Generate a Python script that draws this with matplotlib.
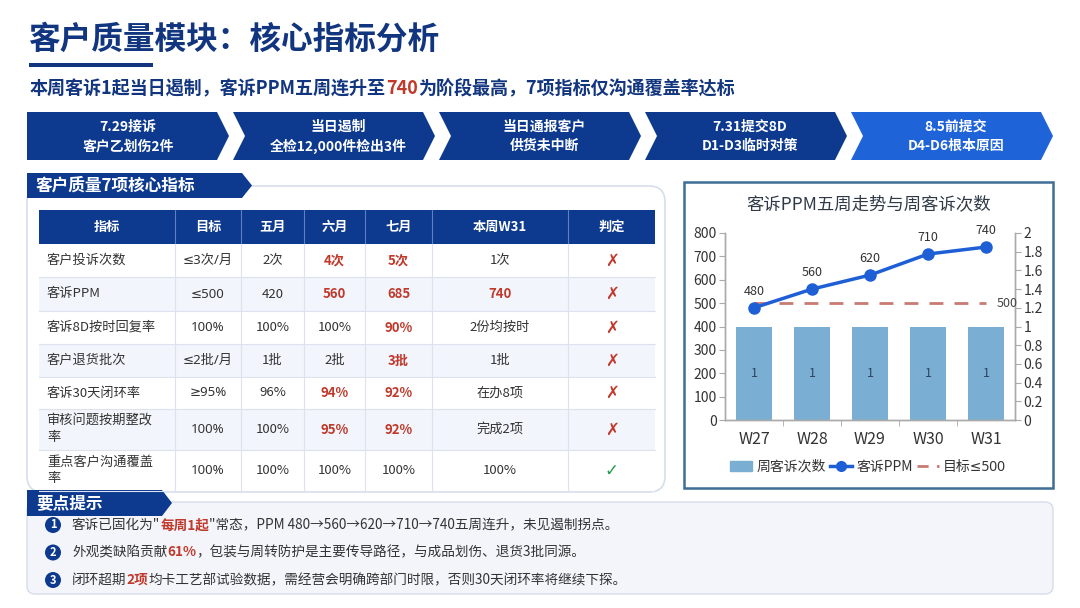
import matplotlib
matplotlib.use("Agg")
import matplotlib.pyplot as plt
from matplotlib.patches import Polygon, Rectangle, FancyBboxPatch, Circle, Patch
from matplotlib.lines import Line2D
from matplotlib.ticker import FuncFormatter, FixedLocator

plt.rcParams['font.family'] = ['Noto Sans CJK SC', 'DejaVu Sans']
# latin first so that ≤ / ≥ come out narrow
LATIN_MIX = ['Noto Sans', 'DejaVu Sans', 'Noto Sans CJK SC']

# ---- data ----
title = '客户质量模块：核心指标分析'
steps = [('7.29接诉', '客户乙划伤2件'),
         ('当日遏制', '全检12,000件检出3件'),
         ('当日通报客户', '供货未中断'),
         ('7.31提交8D', 'D1-D3临时对策'),
         ('8.5前提交', 'D4-D6根本原因')]

headers = ['指标', '目标', '五月', '六月', '七月', '本周W31', '判定']
metrics = ['客户投诉次数', '客诉PPM', '客诉8D按时回复率', '客户退货批次',
           '客诉30天闭环率', '审核问题按期整改\n率', '重点客户沟通覆盖\n率']
targets = ['≤3次/月', '≤500', '100%', '≤2批/月', '≥95%', '100%', '100%']
may_vals = ['2次', '420', '100%', '1批', '96%', '100%', '100%']
jun_vals = ['4次', '560', '100%', '2批', '94%', '95%', '100%']
jul_vals = ['5次', '685', '90%', '3批', '92%', '92%', '100%']
w31_vals = ['1次', '740', '2份均按时', '1批', '在办8项', '完成2项', '100%']
verdict = ['✗', '✗', '✗', '✗', '✗', '✗', '✓']
jun_red = [1, 1, 0, 0, 1, 1, 0]
jul_red = [1, 1, 1, 1, 1, 1, 0]
w31_red = [0, 1, 0, 0, 0, 0, 0]

weeks = ['W27', 'W28', 'W29', 'W30', 'W31']
weekly_complaints = [1, 1, 1, 1, 1]
ppm = [480, 560, 620, 710, 740]
ppm_target = 500

NAVY = '#0d3a8f'
NAVY_TXT = '#12357f'
BRIGHT = '#1f63d8'
RED = '#c0392b'
GRAY_TXT = '#333333'

fig = plt.figure(figsize=(10.8, 6.08), dpi=100)
bg = fig.add_axes([0, 0, 1, 1])
bg.set_xlim(0, 1080)
bg.set_ylim(608, 0)
bg.set_axis_off()
renderer = fig.canvas.get_renderer()


def rich_text(x, y, parts, size):
    # pieces of text in different colours on one line
    for s, color, weight in parts:
        t = bg.text(x, y, s, fontsize=size, color=color, fontweight=weight,
                    va='center', ha='left')
        x += t.get_window_extent(renderer=renderer).width
    return x


# title + underline
bg.text(28, 40, title, fontsize=22.8, fontweight='bold', color=NAVY_TXT,
        va='center', ha='left')
bg.add_patch(Rectangle((29, 63), 124, 4, color=NAVY_TXT, lw=0))

rich_text(30, 89, [('本周客诉1起当日遏制，客诉PPM五周连升至', NAVY_TXT, 'bold'),
                   ('740', RED, 'bold'),
                   ('为阶段最高，7项指标仅沟通覆盖率达标', NAVY_TXT, 'bold')], 13)

# process chevrons
y0, y1 = 112, 160
ym = (y0 + y1) / 2
for i, (l1, l2) in enumerate(steps):
    x0 = 27 + i * 206
    x1 = x0 + 190
    d = 12
    if i == 0:
        pts = [(x0, y0), (x1, y0), (x1 + d, ym), (x1, y1), (x0, y1)]
    else:
        pts = [(x0, y0), (x1, y0), (x1 + d, ym), (x1, y1), (x0, y1), (x0 + d, ym)]
    fc = BRIGHT if i == len(steps) - 1 else NAVY
    bg.add_patch(Polygon(pts, closed=True, fc=fc, ec='none'))
    cx = (x0 + x1 + d) / 2 + (0 if i == 0 else 4)
    bg.text(cx, ym - 9, l1, fontsize=10, color='white', fontweight='bold',
            ha='center', va='center')
    bg.text(cx, ym + 10, l2, fontsize=10, color='white', fontweight='bold',
            ha='center', va='center')

# table panel
bg.add_patch(FancyBboxPatch((27, 186), 638, 306,
                            boxstyle='round,pad=0,rounding_size=16',
                            fc='white', ec='#d6deec', lw=1.2))
bg.add_patch(Polygon([(27, 173), (242, 173), (252, 185.5), (242, 198), (27, 198)],
                     closed=True, fc=NAVY, ec='none'))
bg.text(36, 186, '客户质量7项核心指标', fontsize=12, color='white',
        fontweight='bold', ha='left', va='center')

col_x = [39, 175, 241, 304, 365, 432, 568, 655]
row_y = [210, 244, 277, 311, 344, 377, 409, 450, 491]

bg.add_patch(Rectangle((col_x[0], row_y[0]), col_x[-1] - col_x[0],
                       row_y[1] - row_y[0], fc=NAVY, ec='none'))
for j, h in enumerate(headers):
    cx = (col_x[j] + col_x[j + 1]) / 2
    bg.text(cx, (row_y[0] + row_y[1]) / 2, h, fontsize=9.5, color='white',
            fontweight='bold', ha='center', va='center')
    if j > 0:
        bg.plot([col_x[j], col_x[j]], [row_y[0], row_y[1]], color='#5f7fc0', lw=0.8)

columns = [metrics, targets, may_vals, jun_vals, jul_vals, w31_vals, verdict]
red_flags = [None, None, None, jun_red, jul_red, w31_red, None]
for r in range(len(metrics)):
    ta, tb = row_y[r + 1], row_y[r + 2]
    fc = '#f2f5fb' if r % 2 == 1 else 'white'
    bg.add_patch(Rectangle((col_x[0], ta), col_x[-1] - col_x[0], tb - ta,
                           fc=fc, ec='none'))
    bg.plot([col_x[0], col_x[-1]], [tb, tb], color='#dde3ee', lw=0.8)
    cy = (ta + tb) / 2
    for j, col in enumerate(columns):
        s = col[r]
        if j == 0:
            bg.text(47, cy, s, fontsize=9.5, color=GRAY_TXT, ha='left',
                    va='center', linespacing=1.35)
            continue
        cx = (col_x[j] + col_x[j + 1]) / 2
        if j == 6:
            c = '#1e9a4a' if s == '✓' else RED
            bg.text(cx, cy, s, fontsize=12, color=c, ha='center', va='center',
                    fontweight='bold', family=['DejaVu Sans'])
            continue
        flags = red_flags[j]
        is_red = flags is not None and flags[r]
        fam = LATIN_MIX if j == 1 else None
        bg.text(cx, cy, s, fontsize=9.5, color=RED if is_red else GRAY_TXT,
                fontweight='bold' if is_red else 'normal',
                ha='center', va='center', family=fam)
for x in col_x[1:-1]:
    bg.plot([x, x], [row_y[1], row_y[-1]], color='#dde3ee', lw=0.8)

# chart panel border
bg.add_patch(Rectangle((684, 182), 369, 306, fc='white', ec='#3f6d96', lw=1.8))
bg.text(869, 204, '客诉PPM五周走势与周客诉次数', fontsize=12.5, color='#2f3a48',
        ha='center', va='center')

# bottom tips panel
bg.add_patch(FancyBboxPatch((27, 502), 1026, 92,
                            boxstyle='round,pad=0,rounding_size=8',
                            fc='#f3f5fb', ec='#d5dcea', lw=1.0))
bg.add_patch(Polygon([(27, 490), (162, 490), (172, 503), (162, 516), (27, 516)],
                     closed=True, fc=NAVY, ec='none'))
bg.text(36, 503, '要点提示', fontsize=12, color='white', fontweight='bold',
        ha='left', va='center')

tips = [
    [('客诉已固化为"', GRAY_TXT, 'normal'), ('每周1起', RED, 'bold'),
     ('"常态，PPM 480→560→620→710→740五周连升，未见遏制拐点。', GRAY_TXT, 'normal')],
    [('外观类缺陷贡献', GRAY_TXT, 'normal'), ('61%', RED, 'bold'),
     ('，包装与周转防护是主要传导路径，与成品划伤、退货3批同源。', GRAY_TXT, 'normal')],
    [('闭环超期', GRAY_TXT, 'normal'), ('2项', RED, 'bold'),
     ('均卡工艺部试验数据，需经营会明确跨部门时限，否则30天闭环率将继续下探。', GRAY_TXT, 'normal')],
]
for k, parts in enumerate(tips):
    ty = 525 + k * 27.5
    bg.add_patch(Circle((53, ty), 8, fc=NAVY, ec='none'))
    bg.text(53, ty, str(k + 1), fontsize=8, color='white', fontweight='bold',
            ha='center', va='center')
    rich_text(72, ty, parts, 9.8)

# ---- combo chart ----
ax = fig.add_axes([725 / 1080, 1 - 420 / 608, 290 / 1080, 187 / 608])
ax2 = ax.twinx()
xs = list(range(len(weeks)))

ax2.bar(xs, weekly_complaints, width=0.63, color='#7aaed3', zorder=1)
for x, v in zip(xs, weekly_complaints):
    ax2.text(x, v / 2, str(v), fontsize=9, color='#2d4560', ha='center', va='center')
ax2.set_ylim(0, 2)
ax2.yaxis.set_major_locator(FixedLocator([i * 0.2 for i in range(11)]))
ax2.yaxis.set_major_formatter(FuncFormatter(lambda v, p: f'{v:.1f}'.rstrip('0').rstrip('.')))

ax.set_zorder(ax2.get_zorder() + 1)
ax.patch.set_visible(False)
ax.plot([xs[0], xs[-1]], [ppm_target, ppm_target], color='#c77b72', lw=2,
        dashes=(5, 4))
ax.text(4.37, ppm_target, str(ppm_target), fontsize=9, color='#444444',
        ha='center', va='center')
ax.plot(xs, ppm, color='#1f5fd6', lw=2.5, marker='o', markersize=8)
for x, v in zip(xs, ppm):
    ax.annotate(str(v), (x, v), xytext=(0, 12), textcoords='offset points',
                fontsize=9, color='#333333', ha='center', va='center')
ax.set_ylim(0, 800)
ax.set_yticks(range(0, 801, 100))
ax.set_xlim(-0.5, 4.5)
ax.set_xticks(xs)
ax.set_xticklabels(weeks)
ax.set_xticks([0.5, 1.5, 2.5, 3.5], minor=True)
ax.tick_params(axis='x', which='major', length=0, pad=8, labelsize=11.5,
               labelcolor='#333333')
ax.tick_params(axis='x', which='minor', length=4, color='#aaaaaa')
ax.tick_params(axis='y', length=4, color='#aaaaaa', labelsize=10,
               labelcolor='#333333', pad=2)
ax2.tick_params(axis='y', length=4, color='#aaaaaa', labelsize=10,
                labelcolor='#333333', pad=2)
for a in (ax, ax2):
    a.spines['top'].set_visible(False)
    for s in ('left', 'right', 'bottom'):
        a.spines[s].set_color('#aaaaaa')
        a.spines[s].set_linewidth(1)

handles = [Patch(color='#7aaed3'),
           Line2D([], [], color='#1f5fd6', lw=2.5, marker='o', markersize=7),
           Line2D([], [], color='#c77b72', lw=2, dashes=(4, 3))]
leg = fig.legend(handles, ['周客诉次数', '客诉PPM', '目标≤500'], loc='center',
                 bbox_to_anchor=(868 / 1080, 1 - 467 / 608), ncol=3, frameon=False,
                 fontsize=10, handlelength=1.6, handletextpad=0.3,
                 columnspacing=0.3, labelcolor='#333333')
leg.get_texts()[2].set_family(LATIN_MIX)

fig.savefig('out.png', dpi=100)
